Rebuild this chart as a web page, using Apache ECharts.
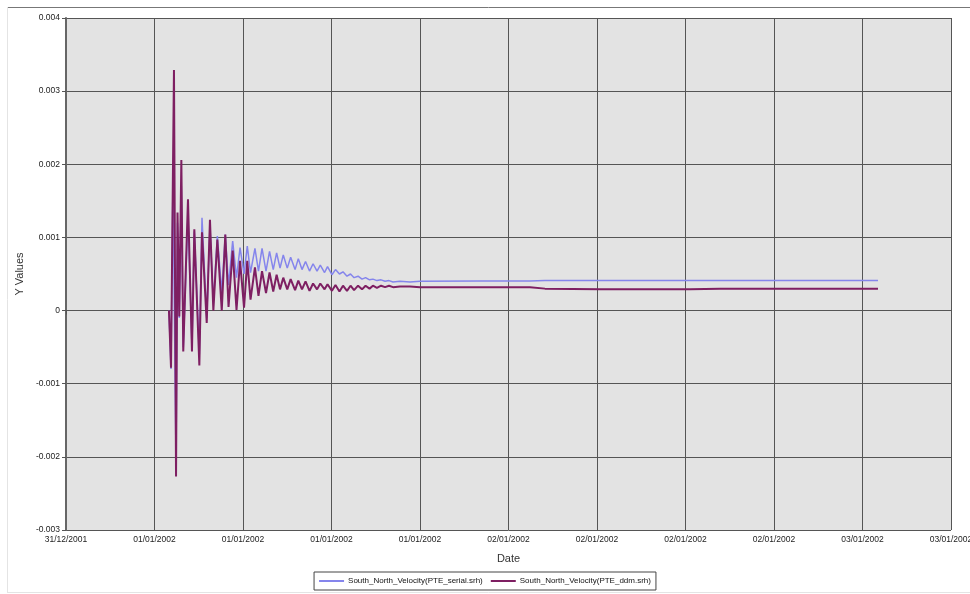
<!DOCTYPE html>
<html>
<head>
<meta charset="utf-8">
<script src="https://cdn.jsdelivr.net/npm/echarts@6/dist/echarts.min.js"></script>
<style>
html,body{margin:0;padding:0;background:#fff;}
#chart{width:970px;height:594px;}
</style>
</head>
<body>
<div id="chart"></div>
<script>
// hours since 31/12/2001 18:00
var times = [6.98, 7.12, 7.25, 7.32, 7.46, 7.56, 7.68, 7.82, 7.95, 8.27, 8.54, 8.70, 9.04, 9.22, 9.54, 9.76, 9.99, 10.26, 10.56, 10.80, 11.02, 11.30, 11.56, 11.80, 12.07, 12.29, 12.51, 12.81, 13.05, 13.29, 13.56, 13.80, 14.05, 14.28, 14.51, 14.73, 15.00, 15.23, 15.53, 15.75, 16.00, 16.24, 16.51, 16.75, 17.02, 17.24, 17.53, 17.73, 18.03, 18.27, 18.54, 18.78, 19.05, 19.29, 19.53, 19.80, 20.07, 20.31, 20.58, 20.81, 21.08, 21.36, 21.63, 21.90, 22.17, 22.64, 23.32, 24.00, 28.07, 31.46, 32.47, 36.20, 42.31, 44.34, 49.76, 55.05];

var serialValues = [0, -0.0008, 0.0018, 0.0005, -0.0021, 0.0012, -0.0001, 0.0017, -0.0005, 0.0013, -0.0005, 0.00108, -0.0006, 0.00127, -0.0001, 0.00115, 0.0001, 0.00102, 0.00025, 0.00104, 0.00035, 0.00095, 0.00045, 0.00086, 0.0005, 0.00088, 0.00052, 0.00085, 0.00054, 0.00085, 0.00054, 0.00081, 0.00056, 0.00079, 0.00058, 0.00076, 0.00058, 0.00073, 0.00056, 0.00071, 0.00056, 0.00067, 0.00054, 0.00064, 0.00054, 0.00062, 0.00052, 0.0006, 0.00049, 0.00056, 0.0005, 0.00053, 0.00047, 0.0005, 0.00045, 0.00047, 0.00043, 0.00045, 0.00042, 0.00043, 0.00041, 0.00042, 0.0004, 0.00041, 0.00039, 0.0004, 0.00039, 0.0004, 0.000405, 0.000405, 0.00041, 0.00041, 0.00041, 0.00041, 0.00041, 0.00041];

var ddmValues = [0, -0.00078, 0.0019, 0.00329, -0.00227, 0.00134, -0.00008, 0.00206, -0.00056, 0.00152, -0.00056, 0.00111, -0.00075, 0.00107, -0.00017, 0.00124, 0.0, 0.00097, 0.0, 0.00104, 0.00005, 0.00082, 0.00001, 0.00068, 0.00004, 0.00068, 0.00015, 0.00059, 0.0002, 0.00054, 0.00024, 0.00052, 0.00026, 0.00049, 0.00029, 0.00045, 0.00029, 0.00043, 0.00028, 0.00041, 0.00029, 0.0004, 0.00027, 0.00037, 0.00029, 0.00037, 0.00029, 0.00036, 0.00027, 0.00035, 0.00026, 0.00034, 0.00027, 0.00034, 0.00028, 0.00034, 0.00029, 0.00034, 0.0003, 0.00034, 0.00031, 0.00034, 0.00032, 0.00034, 0.00032, 0.00033, 0.00033, 0.00032, 0.00032, 0.00032, 0.0003, 0.00029, 0.00029, 0.0003, 0.0003, 0.0003];

var xTickLabels = ['31/12/2001', '01/01/2002', '01/01/2002', '01/01/2002', '01/01/2002', '02/01/2002', '02/01/2002', '02/01/2002', '02/01/2002', '03/01/2002', '03/01/2002'];

var seriesNames = ['South_North_Velocity(PTE_serial.srh)', 'South_North_Velocity(PTE_ddm.srh)'];

var chart = echarts.init(document.getElementById('chart'), null, {renderer: 'canvas'});
var font = '"Liberation Sans", Arial, sans-serif';

function pairs(vals) { return times.map(function (t, i) { return [t, vals[i]]; }); }

chart.setOption({
  animation: false,
  backgroundColor: '#ffffff',
  textStyle: {fontFamily: font},
  graphic: [
    {type: 'line', shape: {x1: 7, y1: 7.5, x2: 970, y2: 7.5}, style: {stroke: '#777', lineWidth: 1}, silent: true},
    {type: 'line', shape: {x1: 7.5, y1: 7, x2: 7.5, y2: 592}, style: {stroke: '#e4e4e4', lineWidth: 1}, silent: true},
    {type: 'line', shape: {x1: 7, y1: 592.5, x2: 970, y2: 592.5}, style: {stroke: '#e4e4e4', lineWidth: 1}, silent: true}
  ],
  grid: {left: 66, right: 19, top: 18, bottom: 64, show: true, backgroundColor: '#e3e3e3', borderWidth: 0, outerBoundsMode: 'none', containLabel: false},
  legend: {
    bottom: 4, left: 'center',
    data: seriesNames,
    icon: 'rect', itemWidth: 25, itemHeight: 2, itemGap: 8,
    borderColor: '#444', borderWidth: 1, padding: [5, 5, 5, 5],
    textStyle: {fontSize: 8, color: '#111', fontFamily: font, padding: [0, 0, 0, -1]}
  },
  xAxis: {
    type: 'value', min: 0, max: 60, interval: 6,
    name: 'Date', nameLocation: 'middle', nameGap: 23,
    nameTextStyle: {fontSize: 11, color: '#333', fontFamily: font},
    axisLine: {show: true, lineStyle: {color: '#555', width: 1}},
    axisTick: {show: true, length: 4, lineStyle: {color: '#555'}},
    axisLabel: {fontSize: 8.5, color: '#222', margin: 5, fontFamily: font,
      formatter: function (v) { return xTickLabels[Math.round(v / 6)] || ''; }},
    splitLine: {show: true, lineStyle: {color: '#555', width: 1}}
  },
  yAxis: {
    type: 'value', min: -0.003, max: 0.004, interval: 0.001,
    name: 'Y Values', nameLocation: 'middle', nameGap: 41, nameRotate: 90,
    nameTextStyle: {fontSize: 11, color: '#333', fontFamily: font},
    axisLine: {show: true, lineStyle: {color: '#666', width: 2}},
    axisTick: {show: true, length: 4, lineStyle: {color: '#555'}},
    axisLabel: {fontSize: 8.5, color: '#222', margin: 6, fontFamily: font,
      formatter: function (v) { return Math.abs(v) < 1e-9 ? '0' : v.toFixed(3); }},
    splitLine: {show: true, lineStyle: {color: '#555', width: 1}}
  },
  series: [
    {name: seriesNames[0], type: 'line', data: pairs(serialValues), showSymbol: false,
      lineStyle: {color: '#8585ec', width: 1.5}, itemStyle: {color: '#8585ec'}, z: 2},
    {name: seriesNames[1], type: 'line', data: pairs(ddmValues), showSymbol: false,
      lineStyle: {color: '#7e1f62', width: 2}, itemStyle: {color: '#7e1f62'}, z: 3}
  ]
});
</script>
</body>
</html>
